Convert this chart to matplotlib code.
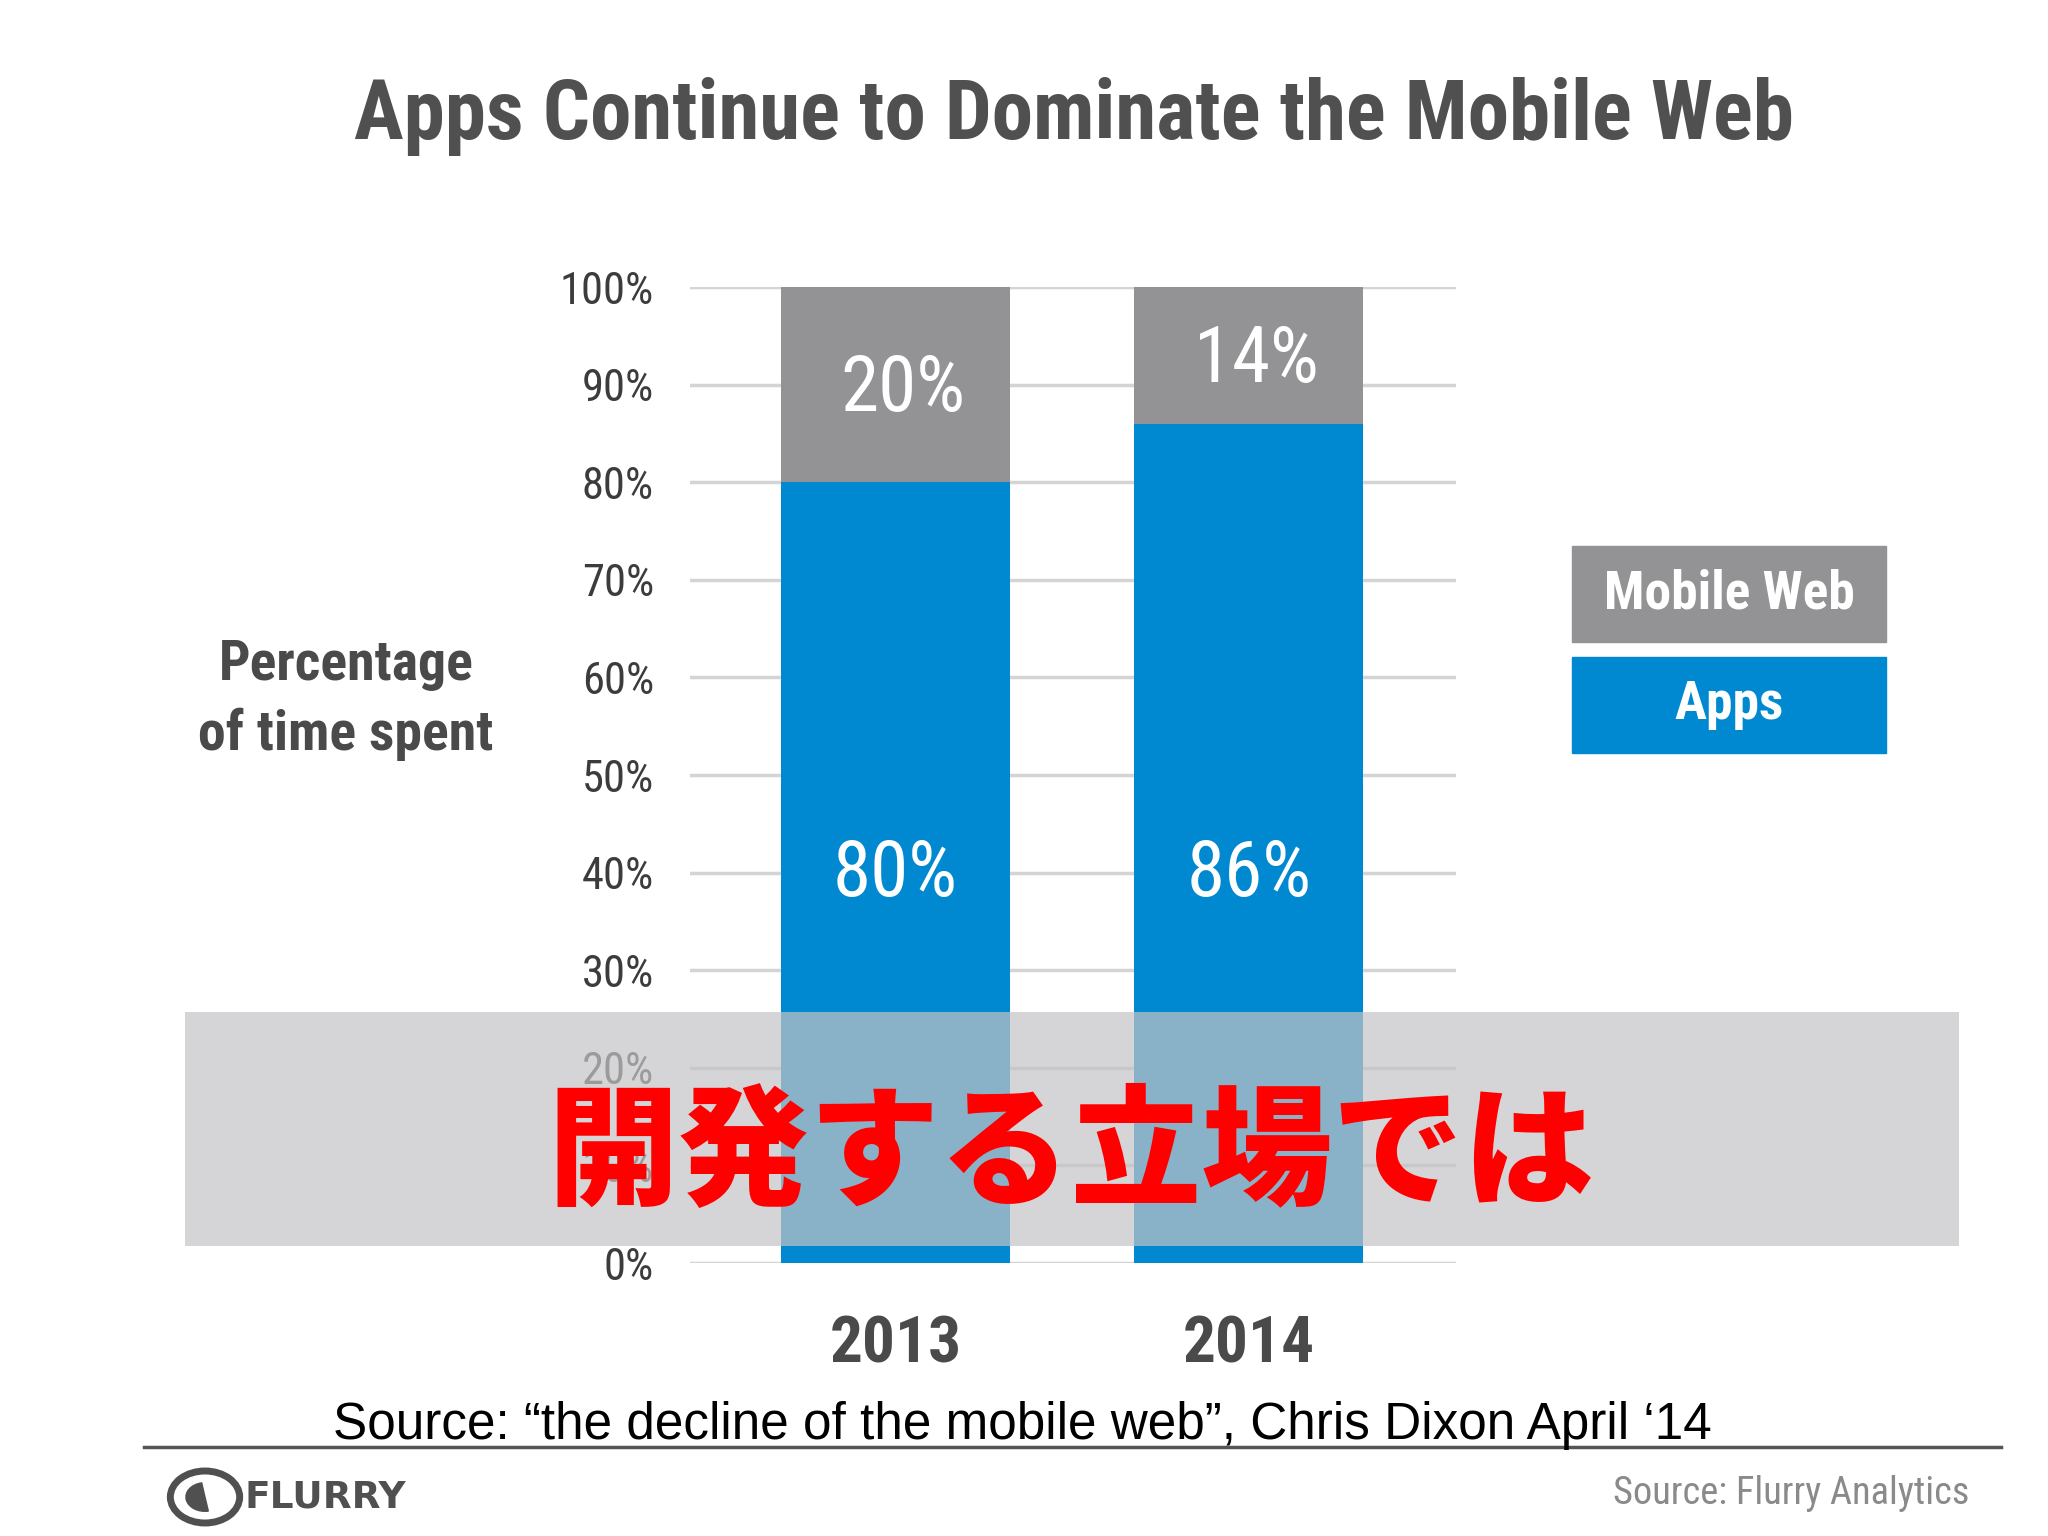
import matplotlib
matplotlib.use("Agg")
import matplotlib.pyplot as plt
from matplotlib.patches import Rectangle, Circle, Wedge
from matplotlib.lines import Line2D

# Chart data
years = ["2013", "2014"]
apps = [80, 86]
mobile_web = [20, 14]
series_names = ["Mobile Web", "Apps"]
y_ticks = [0, 10, 20, 30, 40, 50, 60, 70, 80, 90, 100]

title = "Apps Continue to Dominate the Mobile Web"
overlay_text = "開発する立場では"
source_text = "Source: \u201cthe decline of the mobile web\u201d, Chris Dixon April \u201814"

narrow = ["Roboto Condensed", "Liberation Sans Narrow", "Roboto", "DejaVu Sans"]
cjk = ["Noto Sans CJK JP", "DejaVu Sans"]
blue = "#0089d1"
gray = "#939396"

W, H = 2048, 1536
fig = plt.figure(figsize=(W / 100, H / 100), dpi=100)
fig.patch.set_facecolor("white")
renderer = fig.canvas.get_renderer()


def fx(px):
    return px / W


def fy(py):
    return 1 - py / H


def fit(t, target_px):
    # scale a text so that its width in pixels matches the reference
    w = t.get_window_extent(renderer).width
    t.set_fontsize(t.get_fontsize() * target_px / w)
    return t


def size_for(s, target_px, **kw):
    t = fig.text(0, 0, s, fontsize=40, **kw)
    fit(t, target_px)
    size = t.get_fontsize()
    t.remove()
    return size


# Main axes, placed by pixel box
left, right, top, bottom = 690, 1456, 287, 1263
ax = fig.add_axes([fx(left), fy(bottom), fx(right - left), (bottom - top) / H])

x = [0, 1]
bar_w = 0.648
ax.bar(x, apps, width=bar_w, color=blue, zorder=2)
ax.bar(x, mobile_web, width=bar_w, bottom=apps, color=gray, zorder=2)

ax.set_xlim(-0.581, 1.586)
ax.set_ylim(0, 100)

ytick_size = size_for("100%", 94, family=narrow)
xtick_size = size_for("2013", 132, family=narrow, fontweight="bold")
ax.set_yticks(y_ticks)
ax.set_yticklabels([f"{t}%" for t in y_ticks], family=narrow,
                   fontsize=ytick_size, color="#3c3c3c")
ax.tick_params(axis="y", length=0, pad=26)
ax.set_xticks(x)
ax.set_xticklabels(years, family=narrow, fontsize=xtick_size,
                   fontweight="bold", color="#4a4a4a")
ax.tick_params(axis="x", length=0, pad=37)
ax.yaxis.grid(True, color="#d4d4d4", linewidth=2.5, zorder=0)
ax.set_axisbelow(True)
for s in ax.spines.values():
    s.set_visible(False)

# Value labels inside bars
val_size = size_for("80%", 125, family=narrow)
for i in range(len(years)):
    ax.text(x[i], 39.8, f"{apps[i]}%", ha="center", va="center",
            color="white", family=narrow, fontsize=val_size, zorder=3)
    ax.text(x[i] + 0.02, apps[i] + mobile_web[i] / 2 - 0.5,
            f"{mobile_web[i]}%", ha="center", va="center", color="white",
            family=narrow, fontsize=val_size, zorder=3)

# Title
t = fig.text(fx(1074), fy(117), title, ha="center", va="center",
             family=narrow, fontsize=40, fontweight="bold", color="#505050")
fit(t, 1438)

# Y axis label
ylab_size = size_for("of time spent", 295, family=narrow, fontweight="bold")
fig.text(fx(346), fy(700), "Percentage\nof time spent", ha="center",
         va="center", family=narrow, fontsize=ylab_size, fontweight="bold",
         color="#4a4a4a", linespacing=1.4)

# Legend boxes
legend_colors = [gray, blue]
legend_tops = [546, 657]
leg_size = size_for("Mobile Web", 251, family=narrow, fontweight="bold")
for name, col, tp in zip(series_names, legend_colors, legend_tops):
    fig.patches.append(Rectangle((fx(1572), fy(tp + 96)), fx(314), 96 / H,
                                 transform=fig.transFigure, color=col,
                                 zorder=1))
    fig.text(fx(1729), fy(tp + 48), name, ha="center", va="center",
             family=narrow, fontsize=leg_size, fontweight="bold",
             color="white", zorder=2)

# Translucent overlay band with Japanese caption
fig.patches.append(Rectangle((fx(185), fy(1246)), fx(1959 - 185),
                             (1246 - 1012) / H, transform=fig.transFigure,
                             facecolor=(196 / 255, 196 / 255, 198 / 255),
                             alpha=0.7, edgecolor="none", zorder=5))
t = fig.text(fx(1071), fy(1156), overlay_text, ha="center", va="center",
             family=cjk, fontsize=90, fontweight="black", color="#ff0000",
             zorder=6)
fit(t, 1047)

# Source line and rule
t = fig.text(fx(1022), fy(1425), source_text, ha="center", va="center",
             family=["Liberation Sans", "DejaVu Sans"], fontsize=38,
             color="black")
fit(t, 1377)
fig.lines.append(Line2D([fx(144), fx(2001)], [fy(1447), fy(1447)],
                        transform=fig.transFigure, color="#555555",
                        linewidth=2.5))

# Flurry logo
cx, cy = fx(205), fy(1497)
r = 26 / H
fig.patches.append(Circle((cx, cy), r, transform=fig.transFigure,
                          facecolor="none", edgecolor="#505050",
                          linewidth=5))
fig.patches.append(Wedge((cx, cy), r * 0.55, 100, 280,
                         transform=fig.transFigure, color="#505050"))
t = fig.text(fx(245), fy(1497), "FLURRY", ha="left", va="center",
             family=["DejaVu Sans"], fontsize=24, fontweight="bold",
             color="#505050")
fit(t, 162)
t = fig.text(fx(1969), fy(1493), "Source: Flurry Analytics", ha="right",
             va="center", family=narrow, fontsize=26, color="#8a8a8a")
fit(t, 356)

fig.savefig("out.png", dpi=100)
